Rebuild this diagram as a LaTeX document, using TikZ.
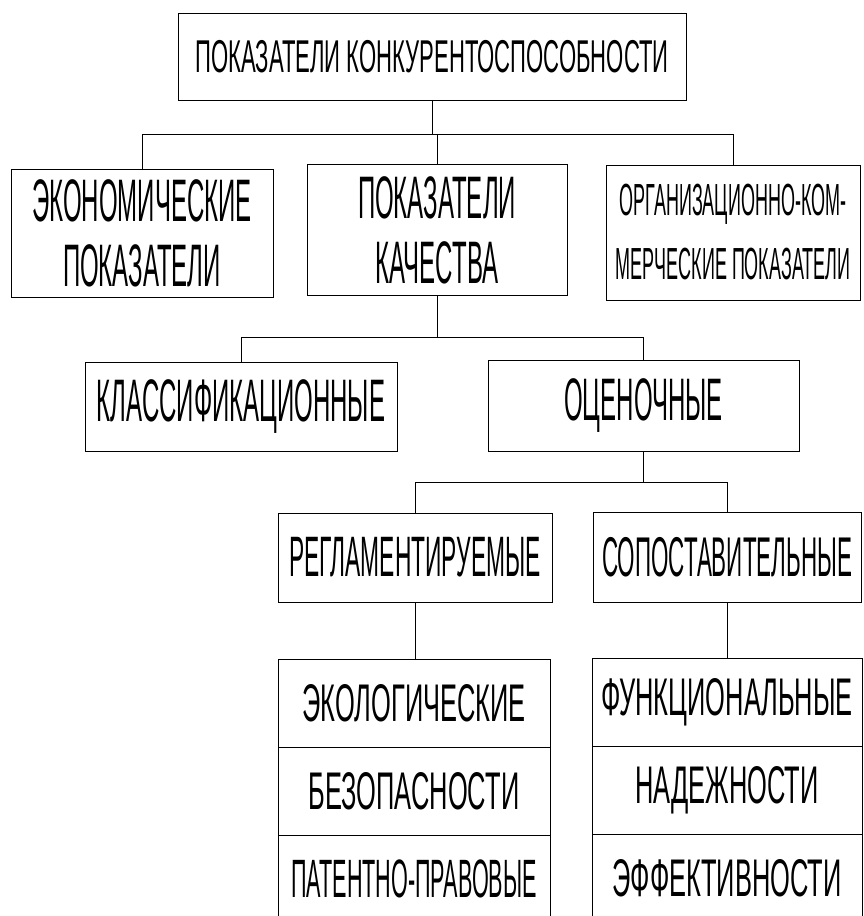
\documentclass[tikz,border=0pt]{standalone}
\usepackage{fontspec}
\newfontfamily\narrowfont{Liberation Sans}[FakeStretch=0.48]
\newfontfamily\condfont{Liberation Sans}[FakeStretch=0.40]
\usepackage{tikz}
\usetikzlibrary{positioning}
\tikzset{
  box/.style={draw, line width=0.9pt, inner sep=0pt, outer sep=0pt, align=center,
    font=\condfont\fontsize{60}{65}\selectfont},
  cell/.style={box, minimum width=272pt, minimum height=88pt, font=\narrowfont\fontsize{53}{60}\selectfont},
  link/.style={line width=0.8pt}
}

\begin{document}
\begin{tikzpicture}[x=1pt, y=-1pt]
  \useasboundingbox (0,0) rectangle (864,916);

  \node[box, minimum width=508pt, minimum height=87pt, font=\narrowfont\fontsize{46}{56}\selectfont] (top) at (432,56.5) {ПОКАЗАТЕЛИ КОНКУРЕНТОСПОСОБНОСТИ};

  \node[box, minimum width=262pt, minimum height=128pt] (econ) at (142,233) {ЭКОНОМИЧЕСКИЕ\\ПОКАЗАТЕЛИ};
  \node[box, minimum width=260pt, minimum height=131pt] (qual) at (437,230) {ПОКАЗАТЕЛИ\\КАЧЕСТВА};
  \node[box, minimum width=254pt, minimum height=135pt, font=\condfont\fontsize{45}{64}\selectfont] (org) at (733,232.5) {ОРГАНИЗАЦИОННО-КОМ-\\МЕРЧЕСКИЕ ПОКАЗАТЕЛИ};

  \node[box, minimum width=312pt, minimum height=89pt] (klass) at (241,406.5) {КЛАССИФИКАЦИОННЫЕ};
  \node[box, minimum width=311pt, minimum height=91pt] (ocen) at (643.5,405.5) {ОЦЕНОЧНЫЕ};

  \node[box, minimum width=274pt, minimum height=89pt, font=\condfont\fontsize{57}{60}\selectfont] (regl) at (415,557.5) {РЕГЛАМЕНТИРУЕМЫЕ};
  \node[box, minimum width=268pt, minimum height=90pt, font=\condfont\fontsize{56}{60}\selectfont] (sopost) at (727,557) {СОПОСТАВИТЕЛЬНЫЕ};

  \node[cell] (eco) at (414,703) {ЭКОЛОГИЧЕСКИЕ};
  \node[cell, below=0pt of eco] (safe) {БЕЗОПАСНОСТИ};
  \node[cell, below=0pt of safe, font=\condfont\fontsize{54}{60}\selectfont] (patent) {ПАТЕНТНО-ПРАВОВЫЕ};

  \node[cell, minimum width=270pt] (func) at (727,702) {ФУНКЦИОНАЛЬНЫЕ};
  \node[cell, minimum width=270pt, below=0pt of func] (rel) {НАДЕЖНОСТИ};
  \node[cell, minimum width=270pt, below=0pt of rel] (eff) {ЭФФЕКТИВНОСТИ};

  \coordinate (bar1) at (0,134);
  \coordinate (bar2) at (0,337);
  \coordinate (bar3) at (0,482);

  \draw[link] (top.south) -- (top.south |- bar1);
  \draw[link] (econ.north) |- (org.north |- bar1) -- (org.north);
  \draw[link] (qual.north) -- (qual.north |- bar1);

  \draw[link] (qual.south) -- (qual.south |- bar2);
  \draw[link] (klass.north) |- (ocen.north |- bar2) -- (ocen.north);

  \draw[link] (ocen.south) -- (ocen.south |- bar3);
  \draw[link] (regl.north) |- (sopost.north |- bar3) -- (sopost.north);

  \draw[link] (regl.south) -- (regl.south |- eco.north);
  \draw[link] (sopost.south) -- (sopost.south |- func.north);
\end{tikzpicture}
\end{document}
